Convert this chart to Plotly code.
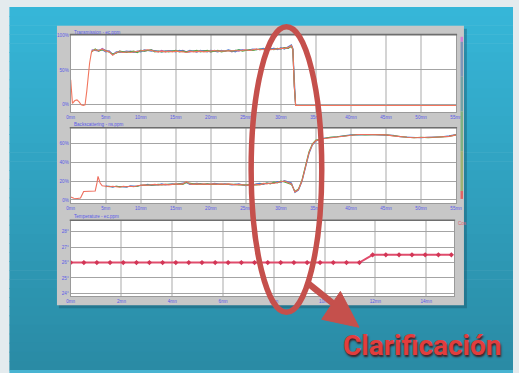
import plotly.graph_objects as go

W, H = 519, 373


def px(x):
    return x / W


def py(y):
    return 1 - y / H


# ---------------- data ----------------
# Chart 1: Transmission (%) vs time (mn)
TRANS_T_HEAD = [0, 0.25, 0.6, 0.9, 1.2, 1.5, 1.8, 2.05, 2.3, 2.5, 2.7, 2.9]
TRANS_T_MID = [3.0, 3.5, 4.0, 4.5, 5.0, 5.5, 6.0, 6.5, 7.0, 7.5,
               8.0, 8.5, 9.0, 9.5, 10.0, 10.5, 11.0, 11.5, 12.0, 12.5,
               13.0, 13.5, 14.0, 14.5, 15.0, 15.5, 16.0, 16.5, 17.0, 17.5,
               18.0, 18.5, 19.0, 19.5, 20.0, 20.5, 21.0, 21.5, 22.0, 22.5,
               23.0, 23.5, 24.0, 24.5, 25.0, 25.5, 26.0, 26.5, 27.0, 27.5,
               28.0, 28.5, 29.0, 29.5, 30.0, 30.5, 31.0, 31.5]
TRANS_T_TAIL = [31.7, 31.9, 32.1, 55]

TRANS_RED_HEAD = [36, 2, 6, 7, 4, 0, -1, 0, 20, 45, 60, 72]
TRANS_RED_MID = [77, 79, 78, 80, 77, 76, 71, 75, 76, 75,
                 76, 75, 76, 76, 77, 78, 79, 78, 77, 76,
                 77, 76, 77, 76, 77, 77, 76, 75, 77, 76,
                 77, 77, 76, 77, 77, 78, 77, 77, 78, 77,
                 78, 77, 78, 78, 79, 78, 79, 80, 79, 80,
                 80, 79, 80, 80, 81, 81, 82, 85]
TRANS_RED_TAIL = [80, 30, -1, -1]

TRANS_GREEN_MID = [76, 80, 77, 79, 78, 75, 73, 74, 77, 76,
                   75, 76, 77, 75, 78, 77, 78, 79, 76, 77,
                   76, 77, 76, 77, 78, 76, 77, 76, 76, 77,
                   78, 76, 77, 78, 76, 77, 78, 76, 77, 78,
                   77, 78, 79, 77, 78, 79, 78, 79, 80, 79,
                   81, 80, 79, 81, 80, 82, 81, 84]
TRANS_GREEN_TAIL = [79, 28, -1, None]

TRANS_BLUE_MID = [78, 78, 79, 79, 76, 77, 72, 76, 75, 76,
                  77, 76, 75, 77, 76, 79, 78, 77, 78, 77,
                  76, 77, 78, 77, 76, 78, 77, 76, 78, 77,
                  76, 78, 77, 76, 78, 77, 76, 78, 77, 79,
                  77, 76, 79, 78, 78, 79, 80, 79, 80, 81,
                  79, 80, 81, 79, 82, 80, 83, 86]
TRANS_BLUE_TAIL = [81, 35, -1, None]

TRANS_PURPLE_MID = [79, 78, 77, 81, 78, 77, 72, 75, 77, 75,
                    76, 77, 76, 76, 78, 77, 78, 79, 77, 76,
                    78, 76, 77, 77, 76, 77, 78, 76, 76, 77,
                    76, 77, 78, 77, 76, 78, 77, 78, 77, 78,
                    76, 78, 77, 79, 78, 78, 79, 80, 79, 80,
                    79, 80, 81, 80, 80, 82, 81, 84]
TRANS_PURPLE_TAIL = [80, 26, -1, None]

# Chart 2: Backscattering (%) vs time (mn)
BACK_T_HEAD = [0, 0.45, 0.95, 1.4, 1.85, 2.5, 3.0, 3.5, 3.75, 3.9, 4.2, 4.5]
BACK_T_MID = [5.0, 5.5, 6.0, 6.5, 7.0, 7.5, 8.0, 8.5, 9.0, 9.5,
              10.0, 10.5, 11.0, 11.5, 12.0, 12.5, 13.0, 13.5, 14.0, 14.5,
              15.0, 15.5, 16.0, 16.5, 17.0, 17.5, 18.0, 18.5, 19.0, 19.5,
              20.0, 20.5, 21.0, 21.5, 22.0, 22.5, 23.0, 23.5, 24.0, 24.5,
              25.0, 25.5, 26.0, 26.5, 27.0, 27.5, 28.0, 28.5, 29.0, 29.5,
              30.0, 30.5, 31.0]
BACK_T_TAIL = [31.5, 32.0, 32.5, 33.0, 33.5, 34.0, 34.5, 35.0,
               36, 37, 38, 39, 40, 41, 42, 43, 44, 45, 46, 47,
               48, 49, 50, 51, 52, 53, 54, 55]

BACK_RED_HEAD = [3, 1.8, 1.5, 2, 9, 9, 9, 9.5, 18, 25, 18, 15]
BACK_RED_MID = [14.5, 14, 14.5, 14, 13.5, 14.5, 14, 14.5, 14, 15,
                15.5, 16, 15.5, 16, 16.5, 16, 16.5, 16.5, 16, 16.5,
                17, 16.5, 17, 19.5, 17, 16.5, 17, 16.5, 17, 16.5,
                17, 17, 16.5, 17, 16.5, 17, 16.5, 16, 16.5, 16,
                15.5, 16, 15.5, 16.5, 16, 17.5, 17, 18, 17.5, 18.5,
                19, 20, 18.5]
BACK_RED_TAIL = [17, 8.5, 11, 20, 36, 50, 59, 63,
                 65, 66, 67, 68, 69, 69.5, 69.5, 69.5, 69.5, 69, 68, 67,
                 66.5, 66, 66.5, 66.5, 66.5, 67, 67.5, 69]

BACK_GREEN_MID = [14, 14.5, 14, 14.5, 14, 14, 14.5, 14, 14.5, 14.5,
                  15.5, 15.5, 16, 15.5, 16, 16.5, 16, 16.5, 16.5, 16,
                  16.5, 17, 16.5, 18.5, 17.5, 17, 16.5, 17, 16.5, 17,
                  16.5, 16.5, 17, 16.5, 17, 16.5, 17, 16.5, 16, 16,
                  16, 15.5, 16, 16, 16.5, 17, 18, 17, 19, 18,
                  20, 19, 18]
BACK_GREEN_TAIL = [16.5, 9, 11.5, 21, 37, 51, 59.5, 63.5,
                   65, 66.5, 67, 68, 69, 69.5, 69, 69.5, 69.5, 69, 68, 67.5,
                   66.5, 66, 66.5, 66, 66.5, 67, 67.5, 69]

BACK_BLUE_MID = [15, 14, 13.5, 14.5, 14, 14, 13.5, 15, 14.5, 14.5,
                 15.5, 15.5, 16.5, 15.5, 16, 16, 17, 16, 16.5, 17,
                 16.5, 17, 17.5, 18.5, 16.5, 17, 17.5, 17, 16.5, 17,
                 16.5, 17.5, 17, 16.5, 17, 16.5, 16, 16.5, 17, 16,
                 15, 16.5, 16, 17, 17.5, 16.5, 18, 17.5, 18, 19.5,
                 18.5, 20.5, 19]
BACK_BLUE_TAIL = [18, 8, 10.5, 19.5, 35, 49, 58.5, 62.5,
                  65.5, 66, 67, 68, 69, 69, 69.5, 69.5, 69, 69, 68.5, 67,
                  66.5, 66.5, 66, 66.5, 66.5, 67, 68, 69.5]

# Chart 3: Temperature (deg) vs time (mn)
TEMP_T = [0, 0.52, 1.03, 1.55, 2.07, 2.59, 3.10, 3.62, 4.14, 4.65,
          5.17, 5.69, 6.20, 6.72, 7.24, 7.76, 8.27, 8.79, 9.31, 9.82,
          10.34, 10.86, 11.37, 11.89, 12.41, 12.93, 13.44, 13.96, 14.48, 14.99]
TEMP_V = [26.0, 26.0, 26.0, 26.0, 26.0, 26.0, 26.0, 26.0, 26.0, 26.0,
          26.0, 26.0, 26.0, 26.0, 26.0, 26.0, 26.0, 26.0, 26.0, 26.0,
          26.0, 26.0, 26.0, 26.5, 26.5, 26.5, 26.5, 26.5, 26.5, 26.5]

TRANS_TICKS = [0, 50, 100]
TRANS_TICKTEXT = ["0%", "50%", "100%"]
BACK_TICKS = [0, 20, 40, 60]
BACK_TICKTEXT = ["0%", "20%", "40%", "60%"]
TEMP_TICKS = [24, 25, 26, 27, 28]
TEMP_TICKTEXT = ["24°", "25°", "26°", "27°", "28°"]

# ---------------- assemble series ----------------
trans_t = TRANS_T_HEAD + TRANS_T_MID + TRANS_T_TAIL
nh = [None] * len(TRANS_T_HEAD)
trans_series = [
    (TRANS_PURPLE_MID, TRANS_PURPLE_TAIL, "#A25CC6", nh),
    (TRANS_BLUE_MID, TRANS_BLUE_TAIL, "#4C7ED2", nh),
    (TRANS_GREEN_MID, TRANS_GREEN_TAIL, "#4FA844", nh),
    (TRANS_RED_MID, TRANS_RED_TAIL, "#F2765E", TRANS_RED_HEAD),
]

back_t = BACK_T_HEAD + BACK_T_MID + BACK_T_TAIL
bh = [None] * len(BACK_T_HEAD)
back_series = [
    (BACK_BLUE_MID, BACK_BLUE_TAIL, "#4C7ED2", bh),
    (BACK_GREEN_MID, BACK_GREEN_TAIL, "#4FA844", bh),
    (BACK_RED_MID, BACK_RED_TAIL, "#EE6E5E", BACK_RED_HEAD),
]

fig = go.Figure()
for mid, tail, col, head in trans_series:
    fig.add_trace(go.Scatter(x=trans_t, y=head + mid + tail, mode="lines",
                             line=dict(color=col, width=1.1),
                             xaxis="x", yaxis="y", showlegend=False, hoverinfo="skip"))
for mid, tail, col, head in back_series:
    fig.add_trace(go.Scatter(x=back_t, y=head + mid + tail, mode="lines",
                             line=dict(color=col, width=1.1),
                             xaxis="x2", yaxis="y2", showlegend=False, hoverinfo="skip"))
fig.add_trace(go.Scatter(x=TEMP_T, y=TEMP_V, mode="lines+markers",
                         line=dict(color="#E04C6C", width=2),
                         marker=dict(color="#D23656", size=4, symbol="diamond"),
                         xaxis="x3", yaxis="y3", showlegend=False, hoverinfo="skip"))

# ---------------- layout ----------------
tickfont = dict(family="Liberation Sans, Arial, sans-serif", size=4.6, color="#5A5AE8")

C1 = (33.3, 111)
C2 = (127, 202.3)
C3 = (220, 296)
XL, XR, XR3 = 68, 461, 459


def xax(domain_r, rng, dtick, anchor):
    return dict(domain=[px(XL), px(domain_r)], range=rng, dtick=dtick, tick0=0,
                ticksuffix="mn", showgrid=True, gridcolor="#D4D4D4", gridwidth=1.6,
                zeroline=False, showline=True, linecolor="#9A9A9A", linewidth=1,
                mirror=True, ticks="", tickfont=tickfont, anchor=anchor,
                fixedrange=True)


def yax(top_bottom, rng, tickvals, ticktext, anchor, grid="#A4A4A4"):
    t, b = top_bottom
    return dict(domain=[py(b), py(t)], range=rng, tickmode="array", tickvals=tickvals,
                ticktext=ticktext, showgrid=True, gridcolor=grid, gridwidth=1,
                zeroline=False, showline=True, linecolor="#9A9A9A", linewidth=1,
                mirror=True, ticks="", tickfont=tickfont, anchor=anchor,
                fixedrange=True)


shapes = []
# outer slide gradient
n_strips = 40
top_c = (54, 182, 216)
bot_c = (42, 139, 165)
y_start, y_end = 5, 370
for i in range(n_strips):
    f = i / (n_strips - 1)
    c = tuple(round(top_c[k] + (bot_c[k] - top_c[k]) * f) for k in range(3))
    ya = y_start + (y_end - y_start) * i / n_strips
    yb = y_start + (y_end - y_start) * (i + 1) / n_strips + 0.6
    shapes.append(dict(type="rect", xref="paper", yref="paper", layer="below",
                       x0=px(5.5), x1=px(519), y0=py(yb), y1=py(ya),
                       fillcolor="rgb(%d,%d,%d)" % c, line=dict(width=0)))
shapes.append(dict(type="rect", xref="paper", yref="paper", layer="below",
                   x0=px(5.5), x1=px(519), y0=py(373), y1=py(370),
                   fillcolor="#48B4D2", line=dict(width=0)))
# panel shadow and panel
shapes.append(dict(type="rect", xref="paper", yref="paper", layer="below",
                   x0=px(56), x1=px(472), y0=py(308), y1=py(27),
                   fillcolor="rgba(20,70,90,0.35)", line=dict(width=0)))
shapes.append(dict(type="rect", xref="paper", yref="paper", layer="below",
                   x0=px(54), x1=px(469), y0=py(305), y1=py(24),
                   fillcolor="#C7C7C7", line=dict(width=0)))
# white plot areas
for (t, b), r in [(C1, XR), (C2, XR), (C3, XR3)]:
    shapes.append(dict(type="rect", xref="paper", yref="paper", layer="below",
                       x0=px(XL), x1=px(r), y0=py(b), y1=py(t),
                       fillcolor="#FFFFFF", line=dict(width=0)))
    shapes.append(dict(type="line", xref="paper", yref="paper", layer="above",
                       x0=px(XL - 1), x1=px(r + 1), y0=py(t - 0.5), y1=py(t - 0.5),
                       line=dict(color="#6E6E6E", width=1.6)))

# legend strip on the right of charts 1 & 2
strip = [(35, 40, "#D27FD4"), (40, 75, "#7D96B8"), (75, 110, "#74A2A6"),
         (110, 150, "#7FB183"), (150, 190, "#9DB274"), (190, 198, "#E06565")]
for ya, yb, col in strip:
    shapes.append(dict(type="rect", xref="paper", yref="paper", layer="above",
                       x0=px(465.5), x1=px(468), y0=py(yb), y1=py(ya),
                       fillcolor=col, line=dict(width=0)))

# red ellipse, arrow
RED = "#C5504C"
shapes.append(dict(type="circle", xref="paper", yref="paper", layer="above",
                   x0=px(252), x1=px(324), y0=py(312), y1=py(25),
                   line=dict(color=RED, width=5.5)))
shapes.append(dict(type="line", xref="paper", yref="paper", layer="above",
                   x0=px(309), y0=py(282), x1=px(348), y1=py(313),
                   line=dict(color=RED, width=6.5)))
shapes.append(dict(type="path", xref="paper", yref="paper", layer="above",
                   path="M %f,%f L %f,%f L %f,%f Z" % (px(343), py(291), px(362), py(327),
                                                      px(324), py(319)),
                   fillcolor=RED, line=dict(color=RED, width=1)))

title_font = dict(family="Liberation Sans, Arial, sans-serif", size=4.6, color="#5A5AE8")
annotations = [
    dict(x=px(69), y=py(30.5), xref="paper", yref="paper", text="Transmission - ec.ppm",
         showarrow=False, xanchor="left", yanchor="middle", font=title_font),
    dict(x=px(69), y=py(123.5), xref="paper", yref="paper", text="Backscattering - ns.ppm",
         showarrow=False, xanchor="left", yanchor="middle", font=title_font),
    dict(x=px(69), y=py(216), xref="paper", yref="paper", text="Temperature - ec.ppm",
         showarrow=False, xanchor="left", yanchor="middle", font=title_font),
    dict(x=px(461), y=py(223), xref="paper", yref="paper", text="Cos",
         showarrow=False, xanchor="left", yanchor="middle",
         font=dict(family="Liberation Sans, Arial, sans-serif", size=4.6, color="#E06070")),
    dict(x=px(427), y=py(345), xref="paper", yref="paper", text="Clarificación",
         showarrow=False, xanchor="center", yanchor="middle",
         font=dict(family="Roboto, Liberation Sans, sans-serif",
                   size=28, color="#E23D3D", weight="bold",
                   shadow="1px 2px 2px rgba(70,10,10,0.85)")),
]

fig.update_layout(
    width=W, height=H, margin=dict(l=0, r=0, t=0, b=0),
    paper_bgcolor="#E4EBEE", plot_bgcolor="rgba(0,0,0,0)",
    xaxis=xax(XR, [0, 55], 5, "y"),
    yaxis=yax(C1, [-11, 100], TRANS_TICKS, TRANS_TICKTEXT, "x"),
    xaxis2=xax(XR, [0, 55], 5, "y2"),
    yaxis2=yax(C2, [-3.5, 76], BACK_TICKS, BACK_TICKTEXT, "x2"),
    xaxis3=xax(XR3, [0, 15.1], 2, "y3"),
    yaxis3=yax(C3, [23.8, 28.71], TEMP_TICKS, TEMP_TICKTEXT, "x3"),
    shapes=shapes, annotations=annotations, showlegend=False,
)

fig.write_html("out.html", config={"displayModeBar": False})
